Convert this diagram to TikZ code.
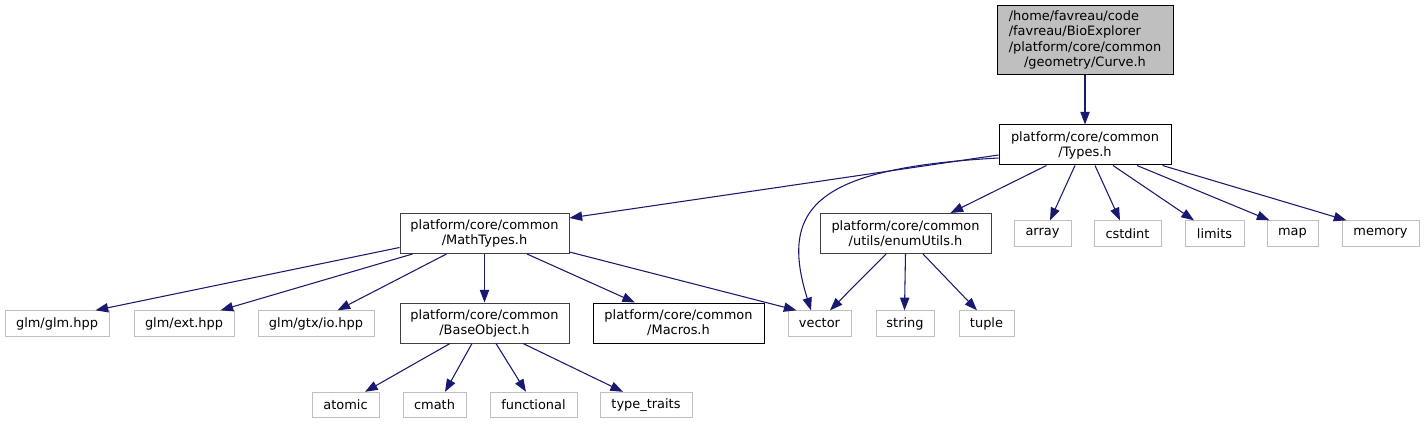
\documentclass[tikz,border=0pt]{standalone}
\usepackage{fontspec}
\setmainfont{DejaVu Sans}
\usetikzlibrary{arrows.meta,calc}
\definecolor{dxnavy}{RGB}{25,25,112}
\definecolor{dxgrey}{RGB}{191,191,191}
\definecolor{dxdark}{RGB}{64,64,64}
\tikzset{
  hfile/.style={draw=black,fill=white,line width=0.75pt,inner sep=0pt,minimum height=30pt,align=center,font=\fontsize{9.7}{11.3}\selectfont},
  sysfile/.style={draw=dxgrey,fill=white,line width=0.75pt,inner sep=0pt,minimum height=19pt,font=\fontsize{9.7}{11.3}\selectfont},
  dep/.style={draw=dxnavy,line width=0.8pt,-{Triangle[length=9.5pt,width=7pt]}}
}

\begin{document}
\begin{tikzpicture}[x=0.75pt,y=-0.75pt]
  \useasboundingbox (0,0) rectangle (1425,424);
  \node[hfile,fill=dxgrey,minimum width=132pt,minimum height=51.75pt] (curve) at (1085,40.5)
    {\begin{tabular}{@{}l@{}}/home/favreau/code\\/favreau/BioExplorer\\/platform/core/common\\\multicolumn{1}{@{}c@{}}{/geometry/Curve.h}\end{tabular}};
  \node[hfile,minimum width=129pt] (types) at (1085,145) {platform/core/common\\/Types.h};
  \node[hfile,draw=dxdark,minimum width=126.75pt] (mathtypes) at (484.5,233.5) {platform/core/common\\/MathTypes.h};
  \node[hfile,draw=dxdark,minimum width=128.25pt] (enumutils) at (905.5,233.5) {platform/core/common\\/utils/enumUtils.h};
  \node[hfile,draw=dxdark,minimum width=126.75pt] (baseobj) at (484.5,323) {platform/core/common\\/BaseObject.h};
  \node[hfile,minimum width=128.25pt] (macros) at (678.5,323) {platform/core/common\\/Macros.h};
  \foreach \n/\x/\w/\t in {array/1042.5/57/array, cstdint/1127.5/67/cstdint, limits/1214.5/59/limits, map/1292.5/51/map, memory/1380.5/77/memory}
    \node[sysfile,minimum width=\w*0.75pt] (\n) at (\x,233.5) {\t};
  \foreach \n/\x/\w/\t in {glm/57/104/{glm/glm.hpp}, glmext/184/100/{glm/ext.hpp}, glmio/316/116/{glm/gtx/io.hpp}, vector/819.5/63/vector, string/905/58/string, tuple/986.5/55/tuple}
    \node[sysfile,minimum width=\w*0.75pt] (\n) at (\x,323.5) {\t};
  \foreach \n/\x/\w/\t in {atomic/345.5/67/atomic, cmath/434.5/63/cmath, functional/533.5/87/functional, traits/646/92/type\_traits}
    \node[sysfile,minimum width=\w*0.75pt] (\n) at (\x,405) {\t};

  \draw[dep] (curve) -- (types);
  \draw[dep] ($(types.west)+(0,10)$) -- ($(mathtypes.north east)+(0,5)$);
  \draw[dep] ($(types.west)+(0,13)$) .. controls +(-179,10) and +(-33,-105) .. ($(vector.north)+(-8.5,0)$);
  \draw[dep] ($(mathtypes.west)+(0,14)$) -- ($(glm.north east)+(-14,0)$);
  \draw[dep] ($(mathtypes.south east)+(0,-2)$) -- ($(vector.north west)+(9,0)$);
  \foreach \s/\a/\t/\b in {types.south west/48/enumutils.north east/-41, types.south/-10/array.north/7.5,
      types.south/10/cstdint.north/-7.5, types.south/28/limits.north/-20.5, types.south/52/map.north west/3,
      types.south east/-9/memory.north west/5, mathtypes.south west/13/glmext.north east/-14,
      mathtypes.south west/47/glmio.north east/-37, mathtypes.south/0/baseobj.north/0,
      mathtypes.south/42.5/macros.north/-43.5, enumutils.south/-19.5/vector.north/10.5,
      enumutils.south/0/string.north/-0.5, enumutils.south/17.5/tuple.north/-9.5,
      baseobj.south/-34.5/atomic.north/19.5, baseobj.south/-12.5/cmath.north/10.5,
      baseobj.south/11.5/functional.north/-7.5, baseobj.south/38.5/traits.north/-23}
    \draw[dep] ($(\s)+(\a,0)$) -- ($(\t)+(\b,0)$);
\end{tikzpicture}
\end{document}
